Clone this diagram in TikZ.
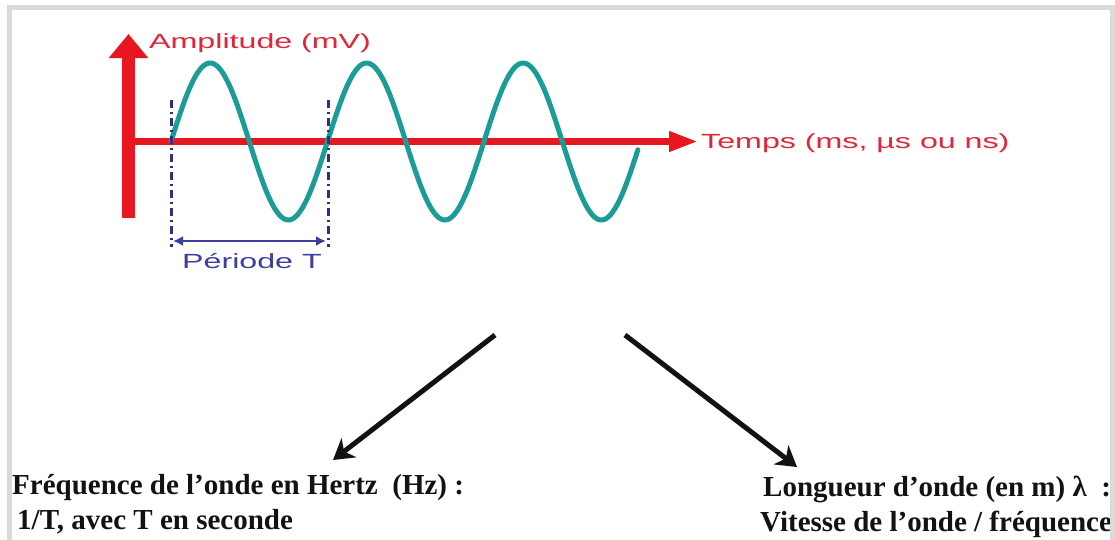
\documentclass[tikz,border=0pt]{standalone}
\usepackage{fontspec}
\setmainfont{Liberation Serif}
\newfontfamily\labfont{Liberation Sans}
\usetikzlibrary{arrows.meta}
\definecolor{axisred}{RGB}{232,22,30}
\definecolor{labred}{RGB}{222,40,58}
\definecolor{waveteal}{RGB}{28,156,150}
\definecolor{navyline}{RGB}{48,48,130}
\definecolor{perblue}{RGB}{62,62,160}
\definecolor{framegray}{RGB}{218,218,218}
\definecolor{ink}{RGB}{18,18,18}
\newcommand{\wide}[1]{\scalebox{1.57}[1]{#1}}
\begin{document}
\begin{tikzpicture}[x=1pt,y=-1pt,
  sanslabel/.style={inner sep=0pt, anchor=base west, font=\labfont\fontsize{20.5}{23}\selectfont},
  serifbold/.style={inner sep=0pt, anchor=base west, text=ink, font=\bfseries\fontsize{29}{33}\selectfont},
  yaxis/.style={draw=axisred, line width=13pt, -{Triangle[length=24pt,width=38pt]}},
  xaxis/.style={draw=axisred, line width=7pt, -{Triangle[length=29pt,width=19pt]}},
  wave/.style={draw=waveteal, line width=5pt},
  periodline/.style={draw=navyline, line width=3pt, dash pattern=on 8pt off 4pt on 2pt off 4pt},
  periodarrow/.style={draw=perblue, line width=2.5pt, {Latex[length=10pt,width=10pt]}-{Latex[length=10pt,width=10pt]}},
  bigarrow/.style={draw=ink, line width=5pt, -{Stealth[length=20pt,width=24pt,inset=6pt]}},
  framebar/.style={draw=framegray, line width=5pt}
]
\useasboundingbox (0,0) rectangle (1115,539);
\fill[white] (0,0) rectangle (1115,539);

% axes
\coordinate (yfoot) at (128.5,218);
\coordinate (ytip) at (128.5,34);
\coordinate (xstart) at (122,141.5);
\coordinate (xtip) at (698,141.5);
\draw[yaxis] (yfoot) -- (ytip);
\draw[xaxis] (xstart) -- (xtip);

% wave
\draw[wave, line cap=round] plot[domain=0:1074, samples=240, smooth] ({171+\x/360*156.5},{141.5-78.5*sin(\x)});

% period markers
\coordinate (p1top) at (171,100);
\coordinate (p1bot) at (171,247);
\coordinate (p2top) at (328,100);
\coordinate (p2bot) at (328,247);
\draw[periodline] (p1top) -- (p1bot);
\draw[periodline] (p2top) -- (p2bot);
\coordinate (pa) at (173,241);
\coordinate (pb) at (326,241);
\draw[periodarrow] (pa) -- (pb);

% labels
\node[sanslabel, text=labred] (amp) at (149,48) {\wide{Amplitude (mV)}};
\node[sanslabel, text=labred] (temps) at (701,148) {\wide{Temps (ms, µs ou ns)}};
\node[sanslabel, text=perblue] (periode) at (182,268) {\wide{Période T}};

% big arrows
\coordinate (a1s) at (495,335);
\coordinate (a1e) at (333,460);
\coordinate (a2s) at (625,335);
\coordinate (a2e) at (797,467);
\draw[bigarrow] (a1s) -- (a1e);
\draw[bigarrow] (a2s) -- (a2e);

% bottom texts
\node[serifbold] (freq1) at (12,494) {Fréquence de l’onde en Hertz~ (Hz) :};
\node[serifbold] (freq2) at (17,529) {1/T, avec T en seconde};
\node[serifbold] (long1) at (763,496) {Longueur d’onde (en m) λ~ :};
\node[serifbold] (long2) at (760,531) {Vitesse de l’onde / fréquence};

% frame
\draw[framebar] (9.5,545) -- (9.5,7.5) -- (1112,7.5) -- (1112,545);
\end{tikzpicture}
\end{document}
